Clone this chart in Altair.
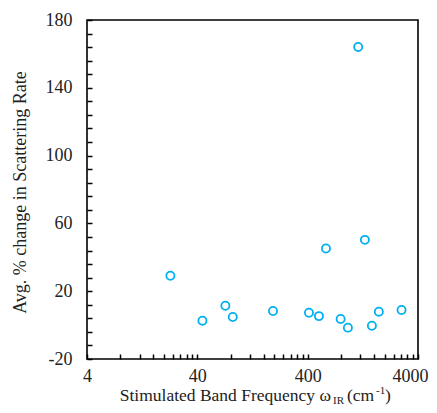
import altair as alt
import pandas as pd

freq = [22.8, 44.5, 71.8, 83.8, 194, 411, 506, 586, 796, 926, 1148, 1320, 1528, 1767, 2837]
change = [29.1, 2.6, 11.4, 4.8, 8.3, 7.3, 5.3, 45.2, 3.6, -1.5, 164.1, 50.3, -0.4, 7.9, 8.9]

x_major = [4, 40, 400, 4000]
x_minor = [4 * k * 10 ** d for d in range(3) for k in range(1, 10)] + [4000]
y_major = [-20, 20, 60, 100, 140, 180]
y_minor = list(range(-20, 181, 8))

df = pd.DataFrame({"freq": freq, "change": change})

W, H = 331, 339
FONT = "Liberation Serif"

xscale = alt.Scale(type="log", domain=[4, 4000], nice=False)
yscale = alt.Scale(domain=[-20, 180], nice=False, zero=False)

label_x_axis = alt.Axis(values=x_major, labelExpr="'' + datum.value", ticks=False, grid=False,
                        domain=False, labelFont=FONT, labelFontSize=18, labelColor="#222",
                        labelPadding=8, labelFlush=False, labelOverlap=False, labelBound=False,
                        labelOffset={"condition": {"test": "datum.value == 4000", "value": -8},
                                     "value": 0},
                        title=None)
label_y_axis = alt.Axis(values=y_major,
                        labelExpr="datum.value < 0 ? '-' + abs(datum.value) : '' + datum.value",
                        ticks=False, grid=False, domain=False, labelFont=FONT, labelFontSize=18,
                        labelColor="#222", labelPadding=15, labelOverlap=False,
                        title="Avg. % change in Scattering Rate", titleFont=FONT,
                        titleFontSize=18, titleFontWeight="normal", titleColor="#222",
                        titleX=-62, titleY=172, titleAngle=270, titleAlign="center",
                        titleBaseline="alphabetic")

tick_x_axis = alt.Axis(values=x_minor, orient="top", offset=-H, labels=False, grid=False,
                       domain=False, tickSize=5, tickWidth=1.5, tickColor="black", title=None)
tick_y_axis = alt.Axis(values=y_minor, orient="right", offset=-W, labels=False, grid=False,
                       domain=False, tickSize=5, tickWidth=1.5, tickColor="black", title=None)

base = alt.Chart(df)
ticks_layer = base.mark_point(opacity=0).encode(
    x=alt.X("freq:Q", scale=xscale, axis=tick_x_axis),
    y=alt.Y("change:Q", scale=yscale, axis=tick_y_axis),
)
points = base.mark_point(filled=False, color="#00B0F0", size=66, strokeWidth=1.8, opacity=1).encode(
    x=alt.X("freq:Q", scale=xscale, axis=label_x_axis),
    y=alt.Y("change:Q", scale=yscale, axis=label_y_axis),
)

one = pd.DataFrame({"a": [0]})
TY = 381.2


def txt(s, x, y, size, align="left"):
    return alt.Chart(one).mark_text(text=s, font=FONT, fontSize=size, color="#222",
                                    align=align, baseline="alphabetic").encode(
        x=alt.value(x), y=alt.value(y))


title_parts = [
    txt("Stimulated Band Frequency \u03c9", 244, TY, 17.5, "right"),
    txt("IR", 246, TY + 2.5, 11),
    txt("(cm", 260, TY, 17.5),
    txt("-1", 289, TY - 7, 11),
    txt(")", 298, TY, 17.5),
]

chart = alt.layer(ticks_layer, points, *title_parts).resolve_axis(
    x="independent", y="independent"
).properties(
    width=W, height=H,
    autosize=alt.AutoSizeParams(type="none"),
    padding={"left": 79, "top": 12, "right": 11, "bottom": 46},
).configure_view(stroke="black", strokeWidth=1.6)

chart.save("out.html", embed_options={"renderer": "svg", "actions": False})
